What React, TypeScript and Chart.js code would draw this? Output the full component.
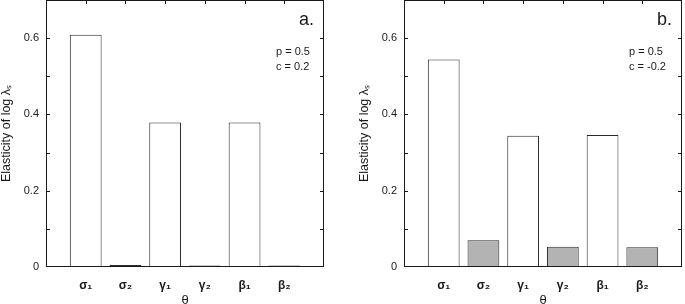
import React, { useEffect, useRef } from 'react';
import { Chart, registerables } from 'chart.js';

Chart.register(...registerables);

// ---- data ----
const categories = ['σ₁', 'σ₂', 'γ₁', 'γ₂', 'β₁', 'β₂'];
const valuesA = [0.609, 0.005, 0.379, 0.004, 0.379, 0.004];
const valuesB = [0.544, 0.070, 0.344, 0.053, 0.346, 0.052];
const yTickLabels = [0, 0.2, 0.4, 0.6];
const yMax = 0.7;
const paramsA = ['p = 0.5', 'c = 0.2'];
const paramsB = ['p = 0.5', 'c = -0.2'];
const xTitle = 'θ';
const yTitle = 'Elasticity of log λₛ';

const FONT = '"Liberation Sans", Arial, Helvetica, sans-serif';
const INK = '#1a1a1a';
const fills = ['#ffffff', '#b3b3b3', '#ffffff', '#b3b3b3', '#ffffff', '#b3b3b3'];

const framePlugin = {
  id: 'frameDecor',
  afterDatasetsDraw(chart: any) {
    const { ctx, chartArea: a, scales } = chart;
    const x = scales.x;
    const y = scales.y;
    const cfg = chart.options.plugins.frameDecor || {};
    ctx.save();
    ctx.strokeStyle = INK;
    ctx.lineWidth = 1;
    ctx.strokeRect(a.left + 0.5, a.top + 0.5, a.right - a.left - 1, a.bottom - a.top - 1);
    ctx.beginPath();
    for (let k = 1; k <= Math.round(yMax * 10); k++) {
      const py = Math.round(y.getPixelForValue(k / 10)) + 0.5;
      ctx.moveTo(a.left, py);
      ctx.lineTo(a.left + 4, py);
      ctx.moveTo(a.right, py);
      ctx.lineTo(a.right - 4, py);
    }
    categories.forEach((_, i) => {
      const px = Math.round(x.getPixelForValue(i + 1)) + 0.5;
      ctx.moveTo(px, a.top);
      ctx.lineTo(px, a.top + 4);
    });
    ctx.stroke();
    ctx.fillStyle = INK;
    ctx.textBaseline = 'alphabetic';
    ctx.textAlign = 'right';
    ctx.font = `18px ${FONT}`;
    ctx.fillText(cfg.label || '', a.right - 10, a.top + 25);
    ctx.textAlign = 'left';
    ctx.font = `11px ${FONT}`;
    (cfg.params || []).forEach((t: string, i: number) => {
      ctx.fillText(t, a.right - cfg.paramOffset, a.top + 55 + i * 15);
    });
    ctx.restore();
  },
};

function Panel({ values, label, params, left, paramOffset }: any) {
  const ref = useRef<HTMLCanvasElement>(null);
  useEffect(() => {
    if (!ref.current) return;
    const chart = new Chart(ref.current, {
      type: 'bar',
      data: {
        datasets: [
          {
            data: categories.map((_, i) => ({ x: i + 1, y: values[i] })),
            backgroundColor: fills,
            borderColor: '#2a2a2a',
            borderWidth: 1,
            borderSkipped: false,
            barPercentage: 0.8,
            categoryPercentage: 1,
          },
        ],
      },
      options: {
        animation: false,
        responsive: false,
        devicePixelRatio: 1,
        layout: { padding: { top: 0, right: 3, left: 0, bottom: 0 } },
        plugins: {
          legend: { display: false },
          tooltip: { enabled: false },
          frameDecor: { label, params, paramOffset },
        } as any,
        scales: {
          x: {
            type: 'linear',
            offset: false,
            min: 0,
            max: categories.length + 1,
            grid: { display: false, drawTicks: false, offset: false },
            border: { display: false },
            ticks: {
              stepSize: 1,
              autoSkip: false,
              maxRotation: 0,
              padding: 11,
              color: INK,
              font: { family: FONT, size: 12, weight: 'bold' },
              callback: (v: any) => categories[Math.round(v) - 1] ?? '',
            },
            title: {
              display: true,
              text: xTitle,
              color: INK,
              font: { family: FONT, size: 13, lineHeight: 1 },
              padding: { top: 0, bottom: -3 },
            },
            afterFit: (s: any) => {
              s.height = 37;
              s.paddingLeft = 0;
              s.paddingRight = 0;
            },
          },
          y: {
            min: 0,
            max: yMax,
            grid: { display: false, drawTicks: false },
            border: { display: false },
            ticks: {
              stepSize: 0.1,
              padding: 7,
              color: INK,
              font: { family: FONT, size: 11 },
              callback: (v: any) => {
                const hit = yTickLabels.find((t) => Math.abs(t - v) < 1e-6);
                return hit === undefined ? '' : String(hit);
              },
            },
            title: {
              display: true,
              text: yTitle,
              color: INK,
              font: { family: FONT, size: 12.5, lineHeight: 1 },
              padding: { top: 18, bottom: 0 },
            },
            afterFit: (s: any) => {
              s.width = 64;
              s.paddingTop = 0;
              s.paddingBottom = 0;
            },
          },
        },
      },
      plugins: [framePlugin],
    } as any);
    return () => chart.destroy();
  }, []);
  return (
    <div style={{ position: 'absolute', left, top: 0, width: 345, height: 304 }}>
      <canvas ref={ref} width={345} height={304} style={{ display: 'block' }} />
    </div>
  );
}

export default function App() {
  return (
    <div
      style={{
        position: 'fixed',
        left: 0,
        top: 0,
        width: 685,
        height: 304,
        overflow: 'hidden',
        background: '#fff',
      }}
    >
      <Panel values={valuesA} label="a." params={paramsA} left={-18} paramOffset={48} />
      <Panel values={valuesB} label="b." params={paramsB} left={340} paramOffset={53} />
    </div>
  );
}
